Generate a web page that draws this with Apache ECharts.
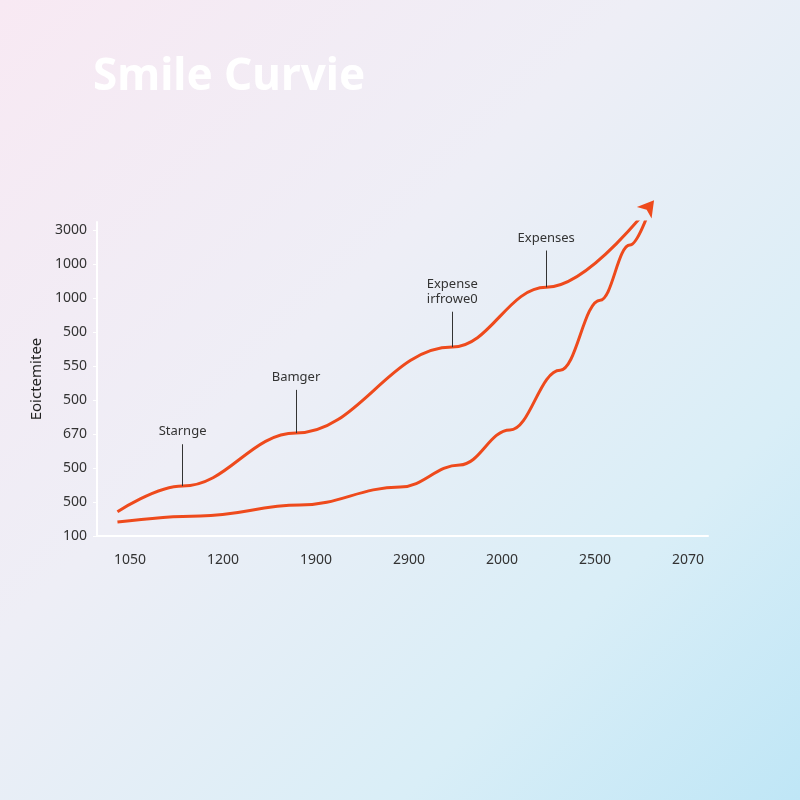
<!DOCTYPE html>
<html>
<head>
    <meta charset="utf-8">
    <title>Smile Curvie</title>
    <script src="https://cdn.jsdelivr.net/npm/echarts@6/dist/echarts.min.js"></script>
    <style>
        html, body { margin: 0; padding: 0; }
        #chart {
            width: 800px;
            height: 800px;
            background: linear-gradient(135deg, #f8e9f3 0%, #eeeef6 40%, #d9eef7 75%, #bfe6f6 100%);
        }
    </style>
</head>
<body>
<div id="chart"></div>
<script type="text/javascript">
    // tick labels as printed in the picture (in axis order)
    var xLabels = ['1050', '1200', '1900', '2900', '2000', '2500', '2070'];
    var yLabels = ['100', '500', '500', '670', '500', '550', '500', '1000', '1000', '3000'];

    // curves, in tick-index units
    var upperLine = [[0.22, 0.71], [0.92, 1.47], [2.14, 3.03], [3.82, 5.56], [4.83, 7.32], [5.99, 9.88]];
    var lowerLine = [[0.22, 0.41], [1.11, 0.59], [2.18, 0.91], [3.26, 1.44], [3.90, 2.09], [4.44, 3.12],
                     [4.98, 4.88], [5.41, 6.94], [5.73, 8.56], [5.94, 9.6]];

    // callouts: name, point on the curve, top of leader line
    var noteNames = ['Starnge', 'Bamger', 'Expense\nirfrowe0', 'Expenses'];
    var notePoints = [[0.92, 1.47], [2.14, 3.03], [3.82, 5.56], [4.83, 7.32]];
    var noteTops = [2.7, 4.3, 6.6, 8.4];

    var xOffset = 0.355;
    var xTicks = xLabels.map(function (l, i) { return xOffset + i; });
    var yTicks = yLabels.map(function (l, i) { return i; });

    var lineColor = '#ee4a1c';

    var upperData = upperLine.map(function (p, i) {
        if (i === upperLine.length - 1) {
            return { value: p, symbol: 'arrow', symbolSize: [14, 16], symbolRotate: -38 };
        }
        return { value: p, symbol: 'none' };
    });

    var markLines = noteNames.map(function (n, i) {
        return [
            { coord: notePoints[i], name: n },
            { coord: [notePoints[i][0], noteTops[i]] }
        ];
    });

    var myChart = echarts.init(document.getElementById('chart'));
    var option = {
        title: {
            text: 'Smile Curvie',
            left: 88,
            top: 50,
            textStyle: { color: '#ffffff', fontSize: 44, fontWeight: 'bold', fontFamily: 'Noto Sans' }
        },
        grid: { left: 97, right: 92, top: 222, bottom: 264 },
        xAxis: {
            type: 'value',
            min: 0,
            max: 6.57,
            splitLine: { show: false },
            axisLine: { show: true, lineStyle: { color: '#ffffff', width: 2 } },
            axisTick: { show: false },
            axisLabel: {
                customValues: xTicks,
                margin: 17,
                color: '#333',
                fontSize: 14,
                fontFamily: 'Noto Sans',
                formatter: function (v) { return xLabels[Math.round(v - xOffset)]; }
            }
        },
        yAxis: {
            type: 'value',
            min: 0,
            max: 9.24,
            name: 'Eoictemitee',
            nameLocation: 'middle',
            nameGap: 50,
            nameRotate: 90,
            nameTextStyle: { color: '#222', fontSize: 15, fontFamily: 'Noto Sans' },
            splitLine: { show: false },
            axisLine: { show: true, lineStyle: { color: '#ffffff', width: 2 } },
            axisTick: { show: true, customValues: yTicks, length: 4, lineStyle: { color: '#ffffff' } },
            axisLabel: {
                customValues: yTicks,
                margin: 10,
                color: '#333',
                fontSize: 14,
                fontFamily: 'Noto Sans',
                formatter: function (v) { return yLabels[Math.round(v)]; }
            }
        },
        series: [
            {
                type: 'line',
                smooth: 0.4,
                smoothMonotone: 'x',
                clip: false,
                data: upperData,
                lineStyle: { color: lineColor, width: 3 },
                itemStyle: { color: lineColor },
                markLine: {
                    silent: true,
                    symbol: 'none',
                    lineStyle: { color: '#333', width: 1, type: 'solid' },
                    label: {
                        show: true,
                        position: 'end',
                        formatter: '{b}',
                        color: '#333',
                        fontSize: 13,
                        fontFamily: 'Noto Sans',
                        lineHeight: 15
                    },
                    data: markLines
                }
            },
            {
                type: 'line',
                smooth: 0.4,
                smoothMonotone: 'x',
                clip: false,
                symbol: 'none',
                data: lowerLine,
                lineStyle: { color: lineColor, width: 3 }
            }
        ]
    };
    myChart.setOption(option);
</script>
</body>
</html>
